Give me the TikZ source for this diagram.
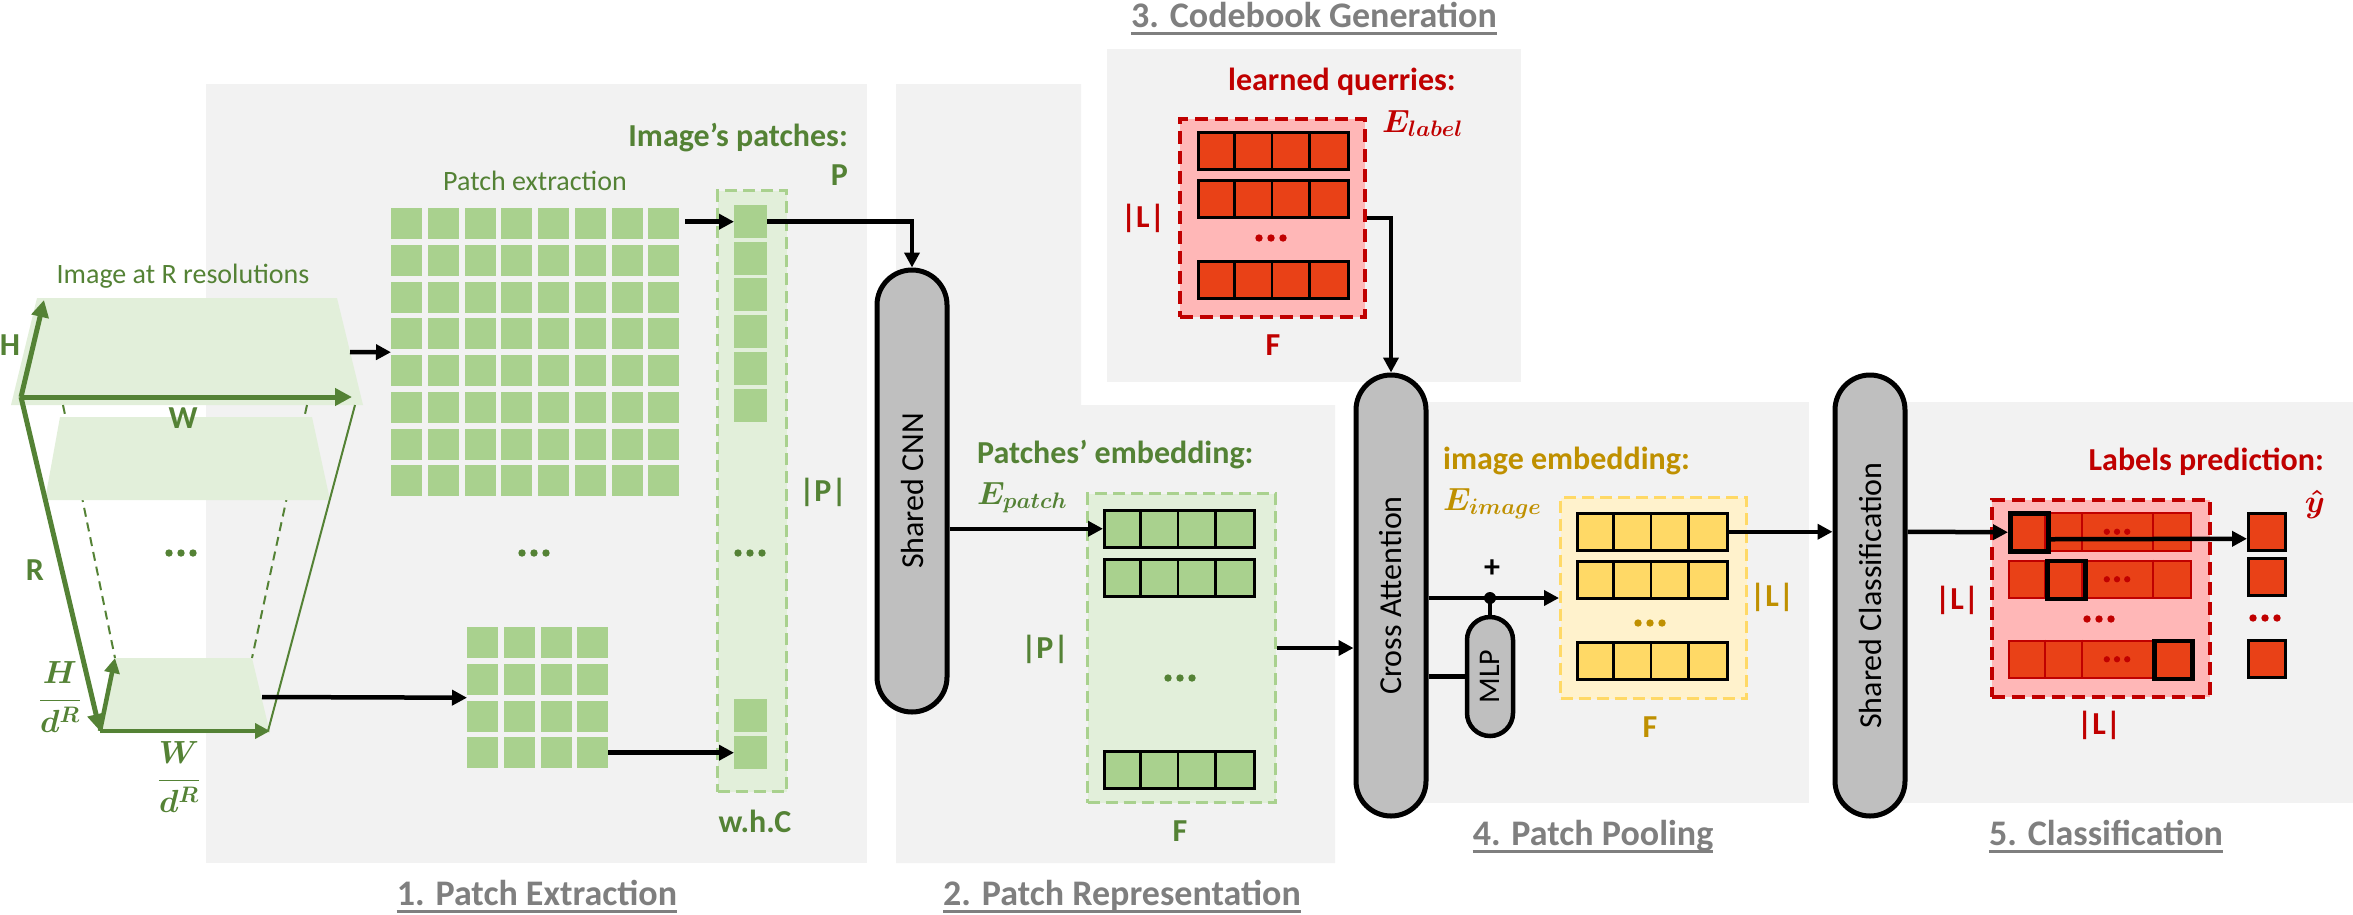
\documentclass[tikz,border=0pt]{standalone}
\usepackage{fix-cm}
\usepackage{fontspec}
\setmainfont{Carlito}
\usetikzlibrary{arrows.meta, positioning}

\definecolor{grn}{HTML}{548235}
\definecolor{grnlight}{HTML}{E2EFDA}
\definecolor{grncell}{HTML}{A9D18E}
\definecolor{panelgray}{HTML}{F2F2F2}
\definecolor{pillgray}{HTML}{BFBFBF}
\definecolor{redtxt}{HTML}{C00000}
\definecolor{pinkfill}{HTML}{FFB7B7}
\definecolor{redcell}{HTML}{E94117}
\definecolor{gold}{HTML}{BF9000}
\definecolor{yellight}{HTML}{FFF2CC}
\definecolor{yelcell}{HTML}{FFD966}
\definecolor{titlegray}{HTML}{7F7F7F}

\tikzstyle{panel} = [fill=panelgray, draw=none]
\tikzstyle{pill} = [rectangle, rounded corners=35pt, minimum width=70pt, inner sep=0pt, line width=5pt, draw=black, fill=pillgray]
\tikzstyle{pilltext} = [rotate=90, font=\fontsize{32}{38}\selectfont]
\tikzstyle{stage} = [anchor=base, inner sep=0pt, text=titlegray, font=\fontsize{36}{43}\selectfont\bfseries]
\tikzstyle{note} = [inner sep=0pt, font=\fontsize{32}{38}\selectfont\bfseries]
\tikzstyle{plain} = [inner sep=0pt, anchor=base, text=grn, font=\fontsize{28}{34}\selectfont]
\tikzstyle{arrow} = [line width=4.5pt, ->, >={Triangle[length=15pt, width=15pt]}]
\tikzstyle{axis} = [draw=grn, line width=5pt, -{Triangle[length=17pt, width=17pt]}]
\tikzstyle{smallaxis} = [draw=grn, line width=4.5pt, -{Triangle[length=15pt, width=15pt]}]
\tikzstyle{vec} = [rectangle, anchor=north west, minimum width=150pt, minimum height=37pt, inner sep=0pt, draw=black, line width=2.5pt]
\tikzstyle{tile} = [fill=grncell, inner sep=0pt, anchor=north west, minimum size=33pt]
\tikzstyle{greenbox} = [rectangle, anchor=north west, inner sep=0pt, fill=grnlight, draw=grncell, line width=3pt, dash pattern=on 12pt off 6pt]
\tikzstyle{redbox} = [rectangle, anchor=north west, inner sep=0pt, fill=pinkfill, draw=redtxt, line width=3.5pt, dash pattern=on 13pt off 7pt]
\tikzstyle{yelbox} = [rectangle, anchor=north west, inner sep=0pt, fill=yellight, draw=yelcell, line width=3pt, dash pattern=on 12pt off 6pt]
\tikzstyle{pcell} = [rectangle, anchor=north west, inner sep=0pt, fill=redcell, draw=redtxt, line width=2pt, minimum width=182pt, minimum height=37.5pt]
\tikzstyle{pick} = [rectangle, anchor=north west, inner sep=0pt, draw=black, line width=4.5pt, minimum size=38pt]
\tikzstyle{outcell} = [rectangle, anchor=north west, inner sep=0pt, fill=redcell, draw=black, line width=2.5pt, minimum size=37pt]

\tikzset{ellip/.pic={\foreach \k in {-1,0,1} \fill (\k*12,0) circle (3.7);}}

% one embedding vector: 4 cells
\newcommand{\vecrow}[4]{\node[vec, fill=#4] (#1) at (#2,#3) {};
  \foreach \k in {1,2,3} \draw[line width=2.5pt] ([xshift=\k*37.5pt]#1.north west) -- ([xshift=\k*37.5pt]#1.south west);}

\begin{document}
\boldmath
\begin{tikzpicture}[x=1pt, y=-1pt]
 \useasboundingbox (0,0) rectangle (2353,914);

 % panels
 \fill[panel] (206,84) rectangle (867,863);
 \fill[panel] (896,84) -- (1081,84) -- (1081,405) -- (1335,405) -- (1335,863) -- (896,863) -- cycle;
 \fill[panel] (1107,49) rectangle (1521,382);
 \fill[panel] (1391,402) rectangle (1809,803);
 \fill[panel] (1870,402) rectangle (2353,803);

 % image at R resolutions
 \fill[grnlight] (37,298) -- (337,298) -- (363,405) -- (11,405) -- cycle;
 \draw[grn, line width=2pt, dash pattern=on 9pt off 6pt] (63,405) -- (115,658) (307,405) -- (252,658);
 \fill[grnlight] (60,417) -- (312,417) -- (330,500) -- (45,500) -- cycle;
 \fill[grnlight] (115,658) -- (252,658) -- (270,733) -- (100,733) -- cycle;
 \draw[grn, line width=2pt] (355,405) -- (268,731);
 \coordinate (o1) at (21,397);
 \coordinate (o2) at (100,731);
 \coordinate (imgtop) at (350,352);
 \coordinate (imgsmall) at (262,697);
 \draw[axis] (o1) -- (44,300);
 \draw[axis] (o1) -- (352,397);
 \draw[axis] (o1) -- (o2);
 \draw[smallaxis] (o2) -- (115,658);
 \draw[smallaxis] (o2) -- (270,731);
 \node[plain] (imgres) at (183,283) {Image at R resolutions};
 \node[note, text=grn] (hlab) at (10,345) {H};
 \node[note, text=grn] (wlab) at (183,418) {W};
 \node[note, text=grn] (rlab) at (35,570) {R};
 \node[note, text=grn] (hfrac) at (60,697) {$\displaystyle\frac{H}{d^R}$};
 \node[note, text=grn] (wfrac) at (179,777) {$\displaystyle\frac{W}{d^R}$};
 \pic[color=grn] at (181,553) {ellip};

 % 1. patch extraction
 \node[plain] (patchex) at (535,190) {Patch extraction};
 \foreach \i in {0,...,7} \foreach \j in {0,...,7} \fill[grncell] (391+36.75*\i,208+36.75*\j) rectangle ++(31,31);
 \node[inner sep=0pt, minimum width=288pt, minimum height=288pt, anchor=north west] (grid) at (391,208) {};
 \foreach \i in {0,...,3} \foreach \j in {0,...,3} \fill[grncell] (467+36.75*\i,627+36.75*\j) rectangle ++(31,31);
 \node[inner sep=0pt, minimum width=141pt, minimum height=141pt, anchor=north west] (sgrid) at (467,627) {};
 \pic[color=grn] at (534,553) {ellip};

 \node[greenbox, minimum width=69pt, minimum height=601pt] (patchcol) at (716,189) {};
 \node[tile] (firstp) at (734,205) {};
 \foreach \j in {1,...,5} \fill[grncell] (734,205+36.7*\j) rectangle ++(33,33);
 \fill[grncell] (734,699) rectangle ++(33,33);
 \node[tile] (lastp) at (734,736) {};
 \pic[color=grn] at (750,553) {ellip};
 \node[note, text=grn, anchor=base east] (patchtxt) at (848,146) {Image’s patches:};
 \node[note, text=grn, anchor=base east] (ptxt) at (848,185) {P};
 \node[note, text=grn] (pcount) at (823,492) {|P|};
 \node[note, text=grn, anchor=base] (whc) at (755,832) {w.h.C};

 \draw[arrow] (imgtop) -- (grid.west);
 \draw[arrow] (imgsmall) -- (sgrid.west);
 \draw[arrow] ([xshift=6pt]grid.north east |- firstp) -- (firstp.west);
 \draw[arrow] (sgrid.east |- lastp) -- (lastp.west);

 % 2. patch representation
 \node[pill, minimum height=442pt] (cnn) at (912,491) {};
 \node[pilltext] at (cnn) {Shared CNN};
 \draw[arrow] (firstp.east) -| (cnn.north);
 \node[note, text=grn, anchor=base west] (embtxt) at (977,463) {Patches’ embedding:};
 \node[note, text=grn, anchor=base west] (epatch) at (977,504) {$E_{patch}$};
 \node[greenbox, minimum width=188pt, minimum height=309pt] (embbox) at (1086,492) {};
 \vecrow{erow1}{1103}{509}{grncell}
 \vecrow{erow2}{1103}{558}{grncell}
 \vecrow{erow3}{1103}{750}{grncell}
 \pic[color=grn] at (1180,678) {ellip};
 \node[note, text=grn] (ecount) at (1045,649) {|P|};
 \node[note, text=grn] (efeat) at (1180,831) {F};
 \draw[arrow] (cnn.east |- erow1) -- (erow1.west);

 % 3. codebook generation
 \node[note, text=redtxt, anchor=base west] (qtxt) at (1228,90) {learned querries:};
 \node[note, text=redtxt, anchor=base west] (elabel) at (1382,132) {$E_{label}$};
 \node[redbox, minimum width=185pt, minimum height=198pt] (querybox) at (1178,117) {};
 \vecrow{qrow1}{1197}{131}{redcell}
 \vecrow{qrow2}{1197}{179}{redcell}
 \vecrow{qrow3}{1197}{260}{redcell}
 \pic[color=redtxt] at (1271,238) {ellip};
 \node[note, text=redtxt] (qcount) at (1143,218) {|L|};
 \node[note, text=redtxt] (qfeat) at (1273,345) {F};

 % 4. patch pooling
 \node[pill, minimum height=441pt] (crossatt) at (1391,595.5) {};
 \node[pilltext] at (crossatt) {Cross Attention};
 \draw[arrow] (querybox.east) -| (crossatt.north);
 \draw[arrow] (embbox.east) -- (embbox.east -| crossatt.west);
 \node[note, text=gold, anchor=base west] (imtxt) at (1443,469) {image embedding:};
 \node[note, text=gold, anchor=base west] (eimage) at (1443,510) {$E_{image}$};
 \node[yelbox, minimum width=186pt, minimum height=201pt] (imgbox) at (1559,496) {};
 \vecrow{yrow1}{1576}{512}{yelcell}
 \vecrow{yrow2}{1576}{560}{yelcell}
 \vecrow{yrow3}{1576}{641}{yelcell}
 \pic[color=gold] at (1650,623) {ellip};
 \node[note, text=gold] (ycount) at (1772,597) {|L|};
 \node[note, text=gold] (yfeat) at (1650,727) {F};
 \node[pill, minimum width=46pt, minimum height=119pt, rounded corners=23pt, line width=4.5pt] (mlp) at (1490,676.5) {};
 \node[pilltext, font=\fontsize{30}{36}\selectfont] at (mlp) {MLP};
 \coordinate (jn) at (mlp.north |- imgbox.west);
 \draw[arrow] (imgbox.west -| crossatt.east) -- (imgbox.west);
 \draw[line width=4.5pt] (mlp.north) -- (jn);
 \draw[line width=4.5pt] (crossatt.east |- mlp.west) -- (mlp.west);
 \fill (jn) circle (6);
 \node[note] (plus) at (1492,569) {+};

 % 5. classification
 \node[pill, minimum height=441pt] (sharedcls) at (1870,595.5) {};
 \node[pilltext] at (sharedcls) {Shared Classification};
 \draw[arrow] (yrow1.east) -- (yrow1.east -| sharedcls.west);
 \node[note, text=redtxt, anchor=base east] (predtxt) at (2324,470) {Labels prediction:};
 \node[note, text=redtxt] (yhat) at (2315,504) {$\hat{y}$};
 \node[redbox, minimum width=218pt, minimum height=197pt] (predbox) at (1990,498) {};
 \foreach \y [count=\r] in {512,559.5,639.5} {
   \node[pcell] (prow\r) at (2008,\y) {};
   \foreach \xa in {37,74,145} \draw[redtxt, line width=2pt] ([xshift=\xa pt]prow\r.north west) -- ([xshift=\xa pt]prow\r.south west);
   \pic[color=redtxt, scale=0.85] at ([xshift=109pt]prow\r.west) {ellip};
 }
 \node[pick] (pick1) at (2008,511) {};
 \node[pick] (pick2) at (2045,558.5) {};
 \node[pick] (pick3) at (2152,638.5) {};
 \pic[color=redtxt] at (2099,619) {ellip};
 \node[note, text=redtxt] (lcount) at (1957,600) {|L|};
 \node[note, text=redtxt] (lcount2) at (2099,725) {|L|};
 \node[outcell] (out1) at (2247,512) {};
 \node[outcell] (out2) at (2247,557) {};
 \node[outcell] (out3) at (2247,639) {};
 \pic[color=redtxt] at (2265,618) {ellip};
 \draw[arrow] (sharedcls.east |- prow1.west) -- (pick1.west);
 \draw[arrow] ([yshift=-7pt]pick1.east) -- ([yshift=-7pt]out1.west);

 % stage titles
 \node[stage] (stage1) at (537,905) {1. Patch Extraction};
 \node[stage] (stage2) at (1122,905) {2. Patch Representation};
 \node[stage] (stage3) at (1314,27) {3. Codebook Generation};
 \node[stage] (stage4) at (1593,845) {4. Patch Pooling};
 \node[stage] (stage5) at (2106,845) {5. Classification};
 \foreach \s in {stage1,stage2,stage3,stage4,stage5}
   \draw[titlegray, line width=3pt] ([yshift=-6pt]\s.base west) -- ([yshift=-6pt]\s.base east);
\end{tikzpicture}
\end{document}
